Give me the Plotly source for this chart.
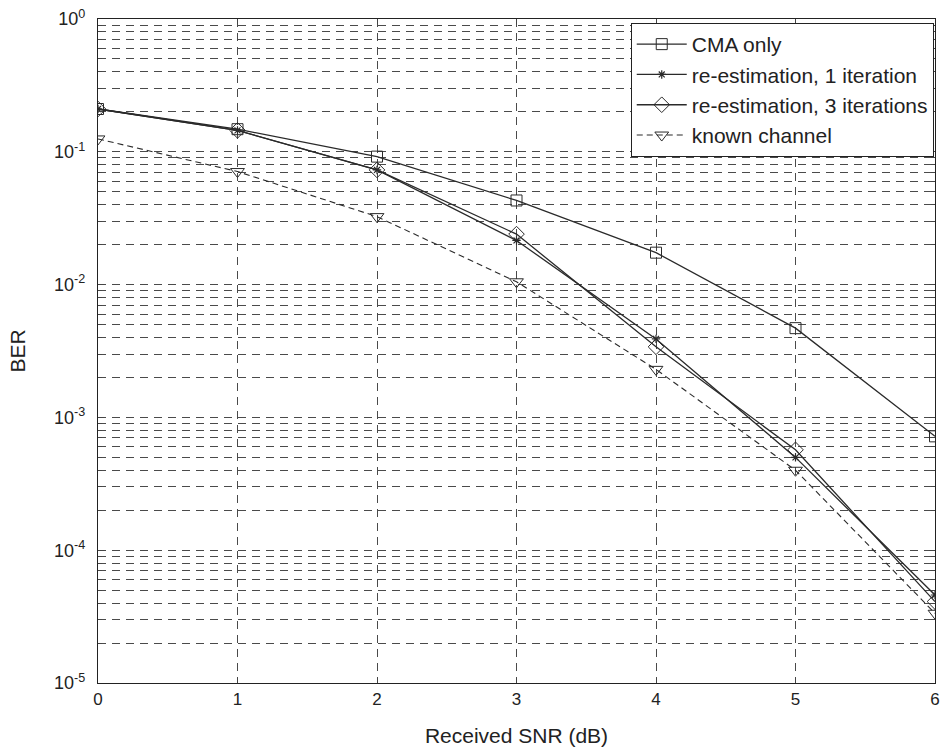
import plotly.graph_objects as go

snr = [0, 1, 2, 3, 4, 5, 6]
ber_cma = [0.21, 0.148, 0.092, 0.043, 0.0174, 0.0047, 0.00072]
ber_re1 = [0.21, 0.145, 0.073, 0.0215, 0.0039, 0.0005, 0.000046]
ber_re3 = [0.21, 0.145, 0.073, 0.024, 0.0034, 0.00057, 0.000041]
ber_known = [0.125, 0.071, 0.0325, 0.0105, 0.0023, 0.0004, 0.0000335]

names = ["CMA only", "re-estimation, 1 iteration", "re-estimation, 3 iterations", "known channel"]
ytick_vals = [1e-5, 1e-4, 1e-3, 1e-2, 1e-1, 1]
ytick_text = ["10<sup>-5</sup>", "10<sup>-4</sup>", "10<sup>-3</sup>", "10<sup>-2</sup>", "10<sup>-1</sup>", "10<sup>0</sup>"]

LC = "#2a2a2a"
fig = go.Figure()
fig.add_trace(go.Scatter(x=snr, y=ber_cma, name=names[0], mode="lines+markers",
                         line=dict(color=LC, width=1.3),
                         marker=dict(symbol="square-open", size=11, color=LC, line=dict(width=1))))
fig.add_trace(go.Scatter(x=snr, y=ber_re1, name=names[1], mode="lines+markers",
                         line=dict(color=LC, width=1.3),
                         marker=dict(symbol="asterisk-open", size=7, color=LC, line=dict(width=1.2))))
fig.add_trace(go.Scatter(x=snr, y=ber_re3, name=names[2], mode="lines+markers",
                         line=dict(color=LC, width=1.3),
                         marker=dict(symbol="diamond-open", size=12, color=LC, line=dict(width=1))))
fig.add_trace(go.Scatter(x=snr, y=ber_known, name=names[3], mode="lines+markers",
                         line=dict(color=LC, width=1.1, dash="6px,4px"),
                         marker=dict(symbol="triangle-down-open", size=12, color=LC, line=dict(width=1))))

GC = "#4a4a4a"
grid = dict(gridcolor=GC, griddash="8px,6px", gridwidth=1.2)

fig.update_layout(
    width=946, height=750,
    margin=dict(l=98, r=6, t=19, b=67),
    paper_bgcolor="white", plot_bgcolor="white",
    font=dict(family="Liberation Sans, Arial, sans-serif", size=18, color="#222"),
    showlegend=True,
    legend=dict(x=0.9985, y=0.994, xanchor="right", yanchor="top",
                bgcolor="white", bordercolor="#222", borderwidth=1,
                font=dict(size=21), tracegroupgap=0, itemwidth=50,
                xref="paper", yref="paper"),
    xaxis=dict(range=[0, 6], tickvals=snr, ticks="inside", ticklen=5,
               tickfont=dict(size=17),
               showline=True, linecolor="#222", linewidth=1.2, mirror="ticks",
               showgrid=True, zeroline=False,
               title=dict(text="Received SNR (dB)", font=dict(size=21), standoff=20),
               **grid),
    yaxis=dict(type="log", range=[-5, 0], tickvals=ytick_vals, ticktext=ytick_text,
               ticks="inside", ticklen=6, tickfont=dict(size=18), ticklabelstandoff=8,
               showline=True, linecolor="#222", linewidth=1.2, mirror="ticks",
               showgrid=True, zeroline=False,
               title=dict(text="BER", font=dict(size=21), standoff=22),
               minor=dict(ticks="inside", ticklen=4, showgrid=True, dtick="D1",
                          gridcolor=GC, griddash="8px,6px", gridwidth=1.2),
               **grid),
)

fig.write_html("out.html")
